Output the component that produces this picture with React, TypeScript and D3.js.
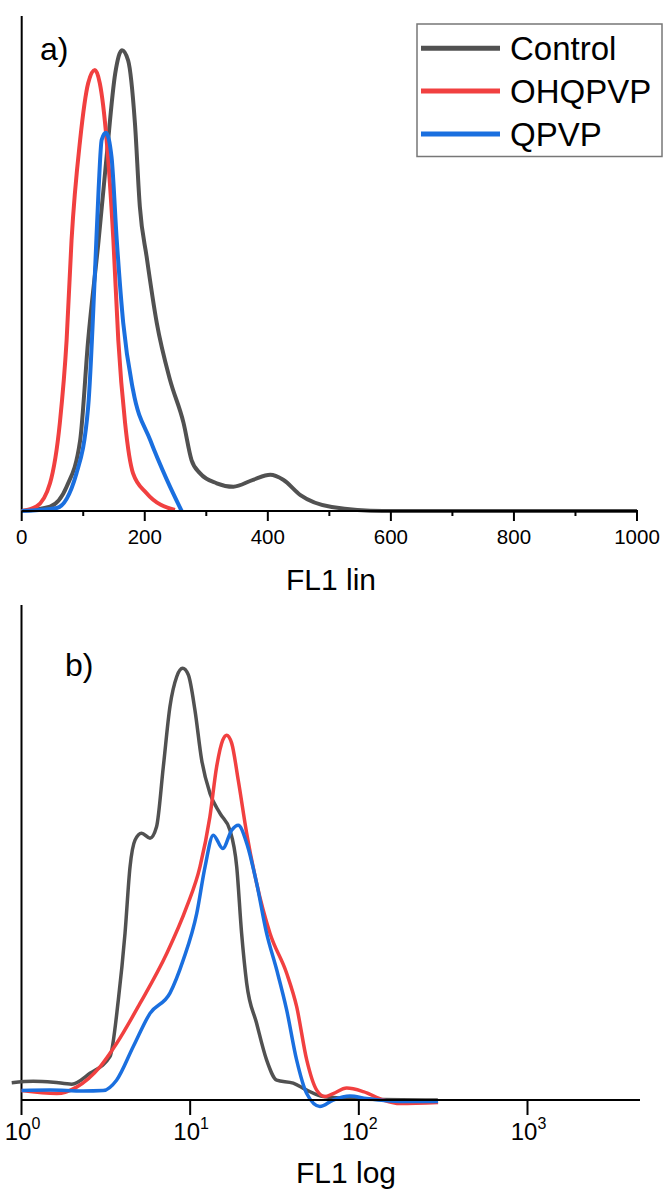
import * as d3 from "d3";

// series names + colours (Origin default palette)
const seriesNames = ["Control", "OHQPVP", "QPVP"];
const seriesColors = ["#515151", "#F14040", "#1A6FDF"];

// panel a) FL1 lin, [FL1, counts (rel.)]
const linControl: [number, number][] = [
  [0, 0], [46, 0.9], [73, 4.9], [95, 14.3], [108, 34.5], [125, 54.7], [138, 71.6],
  [152, 88.4], [163, 93.1], [173, 91], [184, 78.4], [192, 61.5], [203, 51.4],
  [219.5, 38], [241, 26.5], [263, 17.8], [276, 10.3], [290, 7.6], [317, 5.6],
  [344, 4.9], [376, 6.3], [404, 7.3], [425, 6.3], [453, 3.2], [504, 0.8],
  [587, 0], [1000, 0],
];
const linOHQPVP: [number, number][] = [
  [0, 0], [24, 0.9], [46, 5.6], [62, 17.8], [73, 34.5], [81, 54.7], [95, 75],
  [108, 86.4], [119, 89.1], [127, 86.4], [138, 75], [149, 54.7], [157, 34.5],
  [168, 17.8], [181, 7.6], [203, 3.6], [249, 0.2],
];
const linQPVP: [number, number][] = [
  [0, 0], [57, 0.6], [89, 7.6], [108, 21], [119, 48], [125, 65], [130, 75],
  [137, 76.4], [146, 71.5], [154.5, 54.7], [165, 38], [181, 24.4], [209, 14.3],
  [236, 6.3], [260, 0],
];

// panel b) FL1 log
const logControl: [number, number][] = [
  [0.875, 3.5], [1.175, 3.8], [1.545, 3.6], [1.986, 3.2], [2.547, 5.4], [3.35, 8.8],
  [3.75, 20.2], [4.11, 33.7], [4.4, 47.1], [4.71, 52.5], [5.15, 53.9], [5.78, 52.9],
  [6.32, 55.2], [6.93, 67.3], [7.59, 79.5], [8.32, 85.5], [9.02, 87.2], [9.75, 85.9],
  [10.67, 78.8], [11.7, 68.7], [13.09, 62], [15.03, 57.9], [17.22, 54.5],
  [18.88, 47.1], [20.18, 33.7], [21.63, 23.6], [24.77, 15.5], [28.38, 8.1],
  [32.58, 4], [40.83, 3.4], [49.09, 2], [61.52, 0.7], [100, 0.2], [294, 0],
];
const logOHQPVP: [number, number][] = [
  [1.0, 1.9], [1.62, 1.3], [2.12, 2.6], [2.92, 6.7], [3.66, 11.4], [5.04, 19.5],
  [7.26, 29.6], [9.53, 39], [11.43, 47.1], [13.09, 57.2], [14.35, 67.3], [15.6, 72.7],
  [16.44, 73.7], [17.62, 72.1], [19.28, 64.6], [21.63, 53.9], [24.77, 43.8],
  [29.72, 33.7], [37.33, 25.6], [42.76, 18.9], [49.09, 8.1], [56.23, 2],
  [62.95, 0.7], [70.47, 1.3], [84.72, 2.4], [106.2, 1.7], [139.6, 0], [175.4, -0.7],
  [295, -0.5],
];
const logQPVP: [number, number][] = [
  [1.0, 1.9], [1.476, 2], [2.32, 1.8], [3.05, 1.9], [3.66, 4], [4.6, 10.8], [5.78, 17.5],
  [7.59, 21.6], [9.1, 28.3], [10.94, 37.7], [12.25, 47.1], [13.71, 53.5], [15.6, 50.8],
  [17.62, 54.5], [19.28, 55.5], [21.63, 51.9], [24.77, 43.8], [28.38, 33.7],
  [32.58, 26.3], [37.33, 18.2], [42.76, 8.1], [49.09, 1.3], [58.75, -1.3],
  [70.47, 0], [88.5, 0.8], [111.2, 0.3], [175.4, -0.3], [295, -0.3],
];

const linTicksMajor = [0, 200, 400, 600, 800, 1000];
const linTicksMinor = [100, 300, 500, 700, 900];
const logTicks = [1, 10, 100, 1000];

const W = 664, H = 1191;
const font = "'Liberation Sans', Arial, sans-serif";

export default function App() {
  const xA = d3.scaleLinear().domain([0, 1000]).range([21.7, 637]);
  const yA = d3.scaleLinear().domain([0, 100]).range([511, 16]);
  const xB = d3.scaleLog().domain([1, Math.pow(10, 3.667)]).range([21.5, 640]);
  const yB = d3.scaleLinear().domain([0, 100]).range([1100, 605]);

  const lineA = d3.line<[number, number]>().x((d) => xA(d[0])).y((d) => yA(d[1])).curve(d3.curveMonotoneX);
  const lineB = d3.line<[number, number]>().x((d) => xB(d[0])).y((d) => yB(d[1])).curve(d3.curveMonotoneX);

  const linSeries = [linControl, linOHQPVP, linQPVP];
  const logSeries = [logControl, logOHQPVP, logQPVP];

  return (
    <svg width={W} height={H} style={{ position: "absolute", left: 0, top: 0, background: "#fff" }} fontFamily={font}>
      {/* panel a */}
      <line x1={xA(0)} y1={yA(0)} x2={xA(0)} y2={16} stroke="#000" strokeWidth={2} />
      {linSeries.map((s, i) => (
        <path key={i} d={lineA(s) || ""} fill="none" stroke={seriesColors[i]} strokeWidth={4} strokeLinejoin="round" />
      ))}
      <line x1={xA(0)} y1={yA(0)} x2={xA(1000) + 1} y2={yA(0)} stroke="#000" strokeWidth={2} />
      {linTicksMajor.map((t) => (
        <g key={t}>
          <line x1={xA(t)} x2={xA(t)} y1={yA(0)} y2={yA(0) + 10} stroke="#000" strokeWidth={2} />
          <text x={xA(t)} y={544} textAnchor="middle" fontSize={20.5}>{t}</text>
        </g>
      ))}
      {linTicksMinor.map((t) => (
        <line key={t} x1={xA(t)} x2={xA(t)} y1={yA(0)} y2={yA(0) + 5} stroke="#000" strokeWidth={2} />
      ))}
      <text x={331} y={590} textAnchor="middle" fontSize={30}>FL1 lin</text>
      <text x={40} y={60} fontSize={32}>a)</text>

      {/* legend */}
      <rect x={417} y={24} width={245} height={132.5} fill="#fff" stroke="#777" strokeWidth={1.5} />
      {seriesNames.map((n, i) => {
        const ly = 48.3 + i * 42.8;
        return (
          <g key={n}>
            <line x1={421} x2={500} y1={ly} y2={ly} stroke={seriesColors[i]} strokeWidth={5} />
            <text x={510} y={ly + 12} fontSize={33}>{n}</text>
          </g>
        );
      })}

      {/* panel b */}
      <line x1={xB(1)} y1={yB(0)} x2={xB(1)} y2={605} stroke="#000" strokeWidth={2} />
      {logSeries.map((s, i) => (
        <path key={i} d={lineB(s) || ""} fill="none" stroke={seriesColors[i]} strokeWidth={3.5} strokeLinejoin="round" />
      ))}
      <line x1={xB(1)} y1={yB(0)} x2={640} y2={yB(0)} stroke="#000" strokeWidth={2} />
      {logTicks.map((t, i) => (
        <g key={t}>
          <line x1={xB(t)} x2={xB(t)} y1={yB(0)} y2={yB(0) + 15} stroke="#000" strokeWidth={2} />
          <text x={xB(t) + 1} y={1140} textAnchor="middle" fontSize={24}>
            10<tspan fontSize={16} dy={-11}>{i}</tspan>
          </text>
        </g>
      ))}
      <text x={346} y={1183} textAnchor="middle" fontSize={30}>FL1 log</text>
      <text x={65} y={676} fontSize={32}>b)</text>
    </svg>
  );
}
